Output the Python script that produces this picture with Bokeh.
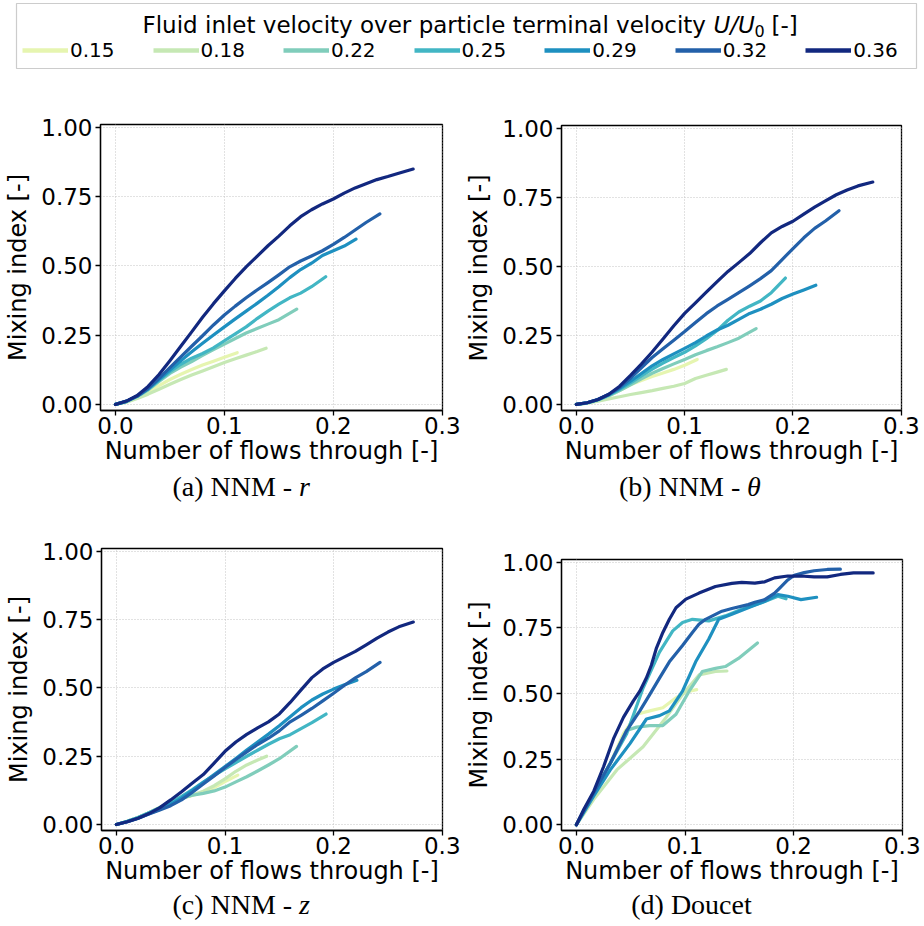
from bokeh.plotting import figure
from bokeh.layouts import column, row
from bokeh.models import (Label, Legend, LegendItem, Range1d, FixedTicker,
                          PrintfTickFormatter)
from bokeh.embed import file_html
from bokeh.resources import INLINE

# ---------------- data ----------------
velocity_labels = ["0.15", "0.18", "0.22", "0.25", "0.29", "0.32", "0.36"]
colors = ["#e6f5b0", "#c6e8b4", "#80cdbb", "#42b6c4", "#1e90c0", "#2360a9", "#12287f"]

x_ticks = [0.0, 0.1, 0.2, 0.3]
y_ticks = [0.0, 0.25, 0.5, 0.75, 1.0]

# (a) NNM - r
nnm_r_x = [
    [0, 0.01, 0.02, 0.03, 0.04, 0.05, 0.06, 0.07, 0.08, 0.09, 0.10, 0.1118],
    [0, 0.01, 0.02, 0.03, 0.04, 0.05, 0.06, 0.07, 0.08, 0.09, 0.10, 0.11, 0.12, 0.13, 0.1383],
    [0, 0.01, 0.02, 0.03, 0.04, 0.05, 0.06, 0.07, 0.08, 0.09, 0.10, 0.11, 0.12, 0.13, 0.14, 0.15, 0.1664],
    [0, 0.01, 0.02, 0.03, 0.04, 0.05, 0.06, 0.07, 0.08, 0.09, 0.10, 0.11, 0.12, 0.13, 0.14, 0.15, 0.16, 0.17, 0.18, 0.193],
    [0, 0.01, 0.02, 0.03, 0.04, 0.05, 0.06, 0.07, 0.08, 0.09, 0.10, 0.11, 0.12, 0.13, 0.14, 0.15, 0.16, 0.17, 0.18, 0.19, 0.20, 0.21, 0.2208],
    [0, 0.01, 0.02, 0.03, 0.04, 0.05, 0.06, 0.07, 0.08, 0.09, 0.10, 0.11, 0.12, 0.13, 0.14, 0.15, 0.16, 0.17, 0.18, 0.19, 0.20, 0.21, 0.22, 0.23, 0.2427],
    [0, 0.01, 0.02, 0.03, 0.04, 0.05, 0.06, 0.07, 0.08, 0.09, 0.10, 0.11, 0.12, 0.13, 0.14, 0.15, 0.16, 0.17, 0.18, 0.19, 0.20, 0.21, 0.22, 0.23, 0.24, 0.25, 0.26, 0.2733],
]
nnm_r_y = [
    [0, 0.009, 0.025, 0.045, 0.068, 0.09, 0.109, 0.126, 0.142, 0.156, 0.17, 0.187],
    [0, 0.008, 0.021, 0.037, 0.055, 0.073, 0.09, 0.106, 0.121, 0.136, 0.151, 0.165, 0.178, 0.191, 0.203],
    [0, 0.01, 0.028, 0.052, 0.083, 0.112, 0.135, 0.155, 0.177, 0.198, 0.218, 0.238, 0.258, 0.274, 0.29, 0.306, 0.344],
    [0, 0.011, 0.03, 0.055, 0.087, 0.118, 0.145, 0.167, 0.184, 0.204, 0.23, 0.255, 0.28, 0.31, 0.337, 0.362, 0.385, 0.402, 0.425, 0.461],
    [0, 0.011, 0.03, 0.056, 0.09, 0.124, 0.158, 0.19, 0.221, 0.251, 0.28, 0.309, 0.337, 0.365, 0.394, 0.425, 0.458, 0.487, 0.51, 0.538, 0.555, 0.572, 0.597],
    [0, 0.011, 0.03, 0.058, 0.094, 0.133, 0.172, 0.21, 0.248, 0.287, 0.323, 0.355, 0.385, 0.413, 0.44, 0.468, 0.497, 0.518, 0.536, 0.555, 0.578, 0.603, 0.63, 0.657, 0.688],
    [0, 0.012, 0.032, 0.065, 0.108, 0.158, 0.21, 0.262, 0.315, 0.364, 0.41, 0.455, 0.497, 0.535, 0.573, 0.608, 0.645, 0.678, 0.703, 0.724, 0.742, 0.763, 0.782, 0.797, 0.812, 0.823, 0.835, 0.850],
]

# (b) NNM - theta
nnm_t_x = [
    [0, 0.01, 0.02, 0.03, 0.04, 0.05, 0.06, 0.07, 0.08, 0.09, 0.10, 0.1116],
    [0, 0.01, 0.02, 0.03, 0.04, 0.05, 0.06, 0.07, 0.08, 0.09, 0.10, 0.11, 0.12, 0.13, 0.1385],
    [0, 0.01, 0.02, 0.03, 0.04, 0.05, 0.06, 0.07, 0.08, 0.09, 0.10, 0.11, 0.12, 0.13, 0.14, 0.15, 0.166],
    [0, 0.01, 0.02, 0.03, 0.04, 0.05, 0.06, 0.07, 0.08, 0.09, 0.10, 0.11, 0.12, 0.13, 0.14, 0.15, 0.16, 0.17, 0.18, 0.193],
    [0, 0.01, 0.02, 0.03, 0.04, 0.05, 0.06, 0.07, 0.08, 0.09, 0.10, 0.11, 0.12, 0.13, 0.14, 0.15, 0.16, 0.17, 0.18, 0.19, 0.20, 0.21, 0.2211],
    [0, 0.01, 0.02, 0.03, 0.04, 0.05, 0.06, 0.07, 0.08, 0.09, 0.10, 0.11, 0.12, 0.13, 0.14, 0.15, 0.16, 0.17, 0.18, 0.19, 0.20, 0.21, 0.22, 0.23, 0.2425],
    [0, 0.01, 0.02, 0.03, 0.04, 0.05, 0.06, 0.07, 0.08, 0.09, 0.10, 0.11, 0.12, 0.13, 0.14, 0.15, 0.16, 0.17, 0.18, 0.19, 0.20, 0.21, 0.22, 0.23, 0.24, 0.25, 0.26, 0.2737],
]
nnm_t_y = [
    [0, 0.005, 0.016, 0.031, 0.05, 0.071, 0.087, 0.101, 0.114, 0.127, 0.142, 0.163],
    [0, 0.005, 0.012, 0.02, 0.028, 0.036, 0.043, 0.05, 0.058, 0.066, 0.076, 0.094, 0.106, 0.117, 0.127],
    [0, 0.005, 0.016, 0.031, 0.05, 0.071, 0.093, 0.113, 0.13, 0.147, 0.163, 0.18, 0.195, 0.209, 0.224, 0.24, 0.275],
    [0, 0.006, 0.017, 0.034, 0.055, 0.078, 0.103, 0.128, 0.15, 0.17, 0.189, 0.212, 0.238, 0.268, 0.305, 0.335, 0.356, 0.375, 0.405, 0.458],
    [0, 0.006, 0.018, 0.036, 0.058, 0.084, 0.112, 0.14, 0.163, 0.183, 0.203, 0.224, 0.248, 0.27, 0.287, 0.308, 0.33, 0.345, 0.363, 0.384, 0.4, 0.415, 0.432],
    [0, 0.006, 0.018, 0.036, 0.062, 0.095, 0.133, 0.17, 0.202, 0.233, 0.264, 0.297, 0.329, 0.357, 0.381, 0.405, 0.43, 0.456, 0.485, 0.525, 0.565, 0.604, 0.638, 0.665, 0.702],
    [0, 0.006, 0.018, 0.037, 0.066, 0.105, 0.146, 0.19, 0.237, 0.285, 0.33, 0.368, 0.407, 0.445, 0.482, 0.514, 0.547, 0.586, 0.622, 0.645, 0.664, 0.69, 0.715, 0.738, 0.76, 0.777, 0.792, 0.806],
]

# (c) NNM - z
nnm_z_x = [
    [0, 0.01, 0.02, 0.03, 0.04, 0.05, 0.06, 0.07, 0.08, 0.09, 0.10, 0.1118],
    [0, 0.01, 0.02, 0.03, 0.04, 0.05, 0.06, 0.07, 0.08, 0.09, 0.10, 0.11, 0.12, 0.13, 0.1383],
    [0, 0.01, 0.02, 0.03, 0.04, 0.05, 0.06, 0.07, 0.08, 0.09, 0.10, 0.11, 0.12, 0.13, 0.14, 0.15, 0.1658],
    [0, 0.01, 0.02, 0.03, 0.04, 0.05, 0.06, 0.07, 0.08, 0.09, 0.10, 0.11, 0.12, 0.13, 0.14, 0.15, 0.16, 0.17, 0.18, 0.193],
    [0, 0.01, 0.02, 0.03, 0.04, 0.05, 0.06, 0.07, 0.08, 0.09, 0.10, 0.11, 0.12, 0.13, 0.14, 0.15, 0.16, 0.17, 0.18, 0.19, 0.20, 0.21, 0.2214],
    [0, 0.01, 0.02, 0.03, 0.04, 0.05, 0.06, 0.07, 0.08, 0.09, 0.10, 0.11, 0.12, 0.13, 0.14, 0.15, 0.16, 0.17, 0.18, 0.19, 0.20, 0.21, 0.22, 0.23, 0.2427],
    [0, 0.01, 0.02, 0.03, 0.04, 0.05, 0.06, 0.07, 0.08, 0.09, 0.10, 0.11, 0.12, 0.13, 0.14, 0.15, 0.16, 0.17, 0.18, 0.19, 0.20, 0.21, 0.22, 0.23, 0.24, 0.25, 0.26, 0.2733],
]
nnm_z_y = [
    [0, 0.012, 0.026, 0.043, 0.062, 0.081, 0.095, 0.106, 0.118, 0.135, 0.157, 0.181],
    [0, 0.012, 0.026, 0.043, 0.062, 0.081, 0.096, 0.108, 0.122, 0.142, 0.167, 0.195, 0.218, 0.236, 0.25],
    [0, 0.012, 0.026, 0.043, 0.062, 0.081, 0.096, 0.107, 0.114, 0.123, 0.137, 0.156, 0.175, 0.196, 0.218, 0.241, 0.286],
    [0, 0.012, 0.026, 0.043, 0.061, 0.08, 0.103, 0.128, 0.155, 0.18, 0.204, 0.227, 0.25, 0.272, 0.294, 0.314, 0.329, 0.351, 0.373, 0.4046],
    [0, 0.01, 0.023, 0.039, 0.056, 0.074, 0.097, 0.125, 0.154, 0.183, 0.212, 0.242, 0.273, 0.302, 0.331, 0.362, 0.395, 0.428, 0.456, 0.478, 0.496, 0.512, 0.528],
    [0, 0.01, 0.023, 0.038, 0.053, 0.069, 0.09, 0.118, 0.148, 0.178, 0.209, 0.238, 0.266, 0.293, 0.316, 0.343, 0.376, 0.4, 0.425, 0.453, 0.481, 0.51, 0.537, 0.56, 0.594],
    [0, 0.01, 0.023, 0.04, 0.062, 0.09, 0.12, 0.152, 0.183, 0.225, 0.268, 0.302, 0.33, 0.354, 0.376, 0.405, 0.447, 0.493, 0.538, 0.57, 0.594, 0.614, 0.634, 0.658, 0.683, 0.705, 0.724, 0.7415],
]

# (d) Doucet
doucet_x = [
    [0, 0.016, 0.0312, 0.0433, 0.0554, 0.0675, 0.0796, 0.0917, 0.1007, 0.1107],
    [0, 0.016, 0.0372, 0.0614, 0.0826, 0.0977, 0.1129, 0.128, 0.1386],
    [0, 0.016, 0.0312, 0.0463, 0.0554, 0.0675, 0.0796, 0.0917, 0.1038, 0.1159, 0.128, 0.1371, 0.1492, 0.1667],
    [0, 0.016, 0.0312, 0.0463, 0.0614, 0.0765, 0.0887, 0.0977, 0.1068, 0.1219, 0.1371, 0.1522, 0.1704, 0.1855, 0.193],
    [0, 0.016, 0.0312, 0.0493, 0.0645, 0.0765, 0.0856, 0.0977, 0.1098, 0.1219, 0.131, 0.1431, 0.1582, 0.1734, 0.1855, 0.1946, 0.2067, 0.2211],
    [0, 0.016, 0.0312, 0.0463, 0.0584, 0.0675, 0.0765, 0.0856, 0.0977, 0.1068, 0.1128, 0.1189, 0.128, 0.134, 0.1431, 0.1582, 0.1643, 0.1734, 0.1825, 0.1885, 0.1946, 0.2006, 0.2097, 0.2188, 0.2309, 0.2430],
    [0, 0.007, 0.016, 0.0251, 0.0342, 0.0433, 0.0523, 0.0584, 0.0644, 0.069, 0.0735, 0.0796, 0.0856, 0.0917, 0.1008, 0.1129, 0.128, 0.1431, 0.1522, 0.1643, 0.1734, 0.1824, 0.1946, 0.2067, 0.2188, 0.2309, 0.243, 0.2551, 0.2732],
]
doucet_y = [
    [0, 0.122, 0.234, 0.347, 0.421, 0.434, 0.446, 0.484, 0.506, 0.515],
    [0, 0.097, 0.209, 0.297, 0.409, 0.496, 0.571, 0.584, 0.586],
    [0, 0.122, 0.234, 0.359, 0.372, 0.378, 0.378, 0.421, 0.509, 0.584, 0.596, 0.603, 0.634, 0.693],
    [0, 0.122, 0.234, 0.347, 0.521, 0.658, 0.739, 0.771, 0.783, 0.777, 0.796, 0.821, 0.846, 0.871, 0.861],
    [0, 0.11, 0.209, 0.309, 0.403, 0.416, 0.434, 0.509, 0.621, 0.708, 0.783, 0.802, 0.827, 0.852, 0.877, 0.871, 0.858, 0.867],
    [0, 0.122, 0.234, 0.359, 0.434, 0.496, 0.559, 0.621, 0.683, 0.733, 0.764, 0.783, 0.802, 0.814, 0.824, 0.839, 0.848, 0.858, 0.883, 0.908, 0.933, 0.951, 0.961, 0.968, 0.973, 0.974],
    [0, 0.060, 0.128, 0.222, 0.328, 0.409, 0.471, 0.509, 0.559, 0.608, 0.671, 0.733, 0.783, 0.827, 0.860, 0.883, 0.908, 0.920, 0.924, 0.921, 0.926, 0.941, 0.948, 0.948, 0.945, 0.945, 0.954, 0.960, 0.960],
]

# ---------------- styling helpers ----------------
SANS = "DejaVu Sans"
SERIF = "Liberation Serif"


def make_panel(xs, ys, width, height, mb_l, mb_r, mb_t, mb_b):
    p = figure(width=width, height=height,
               min_border_left=mb_l, min_border_right=mb_r,
               min_border_top=mb_t, min_border_bottom=mb_b,
               x_range=Range1d(-0.0137, 0.3002), y_range=Range1d(-0.022, 1.011),
               output_backend="svg", toolbar_location=None, title=None)
    for i in range(len(xs)):
        p.line(xs[i], ys[i], line_color=colors[i], line_width=3.2,
               line_join="round", line_cap="round")

    p.xaxis.ticker = FixedTicker(ticks=x_ticks)
    p.yaxis.ticker = FixedTicker(ticks=y_ticks)
    p.xaxis.formatter = PrintfTickFormatter(format="%.1f")
    p.yaxis.formatter = PrintfTickFormatter(format="%.2f")
    p.xaxis.axis_label = "Number of flows through [-]"
    p.yaxis.axis_label = "Mixing index [-]"
    for ax in (p.xaxis, p.yaxis):
        ax.axis_label_text_font = SANS
        ax.axis_label_text_font_size = "24px"
        ax.axis_label_text_font_style = "normal"
        ax.axis_label_text_color = "black"
        ax.major_label_text_font = SANS
        ax.major_label_text_font_size = "23px"
        ax.major_label_text_color = "black"
        ax.axis_line_color = "black"
        ax.axis_line_width = 1.3
        ax.major_tick_line_color = "black"
        ax.major_tick_line_width = 1.3
        ax.major_tick_out = 5
        ax.major_tick_in = 0
        ax.minor_tick_line_color = None
    p.xaxis.major_label_standoff = 1
    p.yaxis.major_label_standoff = 3
    p.xaxis.axis_label_standoff = 0
    p.yaxis.axis_label_standoff = 6

    p.grid.grid_line_color = "#c4c4c4"
    p.grid.grid_line_dash = "1 2"
    p.grid.grid_line_width = 1
    p.outline_line_color = "black"
    p.outline_line_width = 1.3
    p.background_fill_color = "white"
    p.border_fill_color = "white"
    return p


def make_caption_strip(height, y, parts):
    s = figure(width=924, height=height, min_border=0,
               x_range=Range1d(0, 924), y_range=Range1d(0, height),
               x_axis_type=None, y_axis_type=None,
               output_backend="svg", toolbar_location=None, title=None)
    s.grid.visible = False
    s.outline_line_color = None
    s.border_fill_color = "white"
    for (xpos, txt, align, style) in parts:
        s.add_layout(Label(x=xpos, y=y, text=txt, text_font=SERIF,
                           text_font_size="28px", text_font_style=style,
                           text_baseline="middle", text_align=align,
                           text_color="black"))
    return s


# layout: legend 0-75 | row 1 75-468 | captions 468-505 | row 2 505-887 | captions 887-926
pa = make_panel(nnm_r_x, nnm_r_y, 462, 393, 100, 20, 49, 58)
pb = make_panel(nnm_t_x, nnm_t_y, 462, 393, 96, 23, 50, 58)
pc = make_panel(nnm_z_x, nnm_z_y, 462, 382, 101, 20, 43, 54)
pd = make_panel(doucet_x, doucet_y, 462, 382, 94, 22, 54, 53)

cap1 = make_caption_strip(37, 19, [
    (283, "(a) NNM -", "right", "normal"),
    (290, "r", "left", "italic"),
    (743, "(b) NNM -", "right", "normal"),
    (750, "\u03b8", "left", "italic"),
])
cap2 = make_caption_strip(39, 22.5, [
    (283, "(c) NNM -", "right", "normal"),
    (290, "z", "left", "italic"),
    (693, "(d) Doucet", "center", "normal"),
])

# ---------------- legend strip ----------------
lg = figure(width=924, height=75, min_border_left=16, min_border_right=8,
            min_border_top=3, min_border_bottom=7,
            x_range=Range1d(0, 1), y_range=Range1d(0, 1),
            x_axis_type=None, y_axis_type=None,
            output_backend="svg", toolbar_location=None, title=None)
lg.grid.visible = False
lg.outline_line_color = "#cccccc"
lg.outline_line_width = 1.2
lg.border_fill_color = "white"

items = []
for i, lab in enumerate(velocity_labels):
    # legend-only renderer: its single segment lies outside the visible range
    r = lg.line(x=[5, 6], y=[5, 6], line_color=colors[i], line_width=4.5)
    items.append(LegendItem(label=lab, renderers=[r]))
legend = Legend(items=items, orientation="horizontal", location=(6, 6),
                glyph_width=46, glyph_height=20, label_standoff=2, spacing=38,
                padding=0, margin=0, border_line_alpha=0, background_fill_alpha=0,
                label_text_font=SANS, label_text_font_size="20px",
                label_text_color="black", label_height=20)
lg.add_layout(legend, "center")

title_y = 44
lg.add_layout(Label(x=126, y=title_y, x_units="screen", y_units="screen",
                    text="Fluid inlet velocity over particle terminal velocity",
                    text_font=SANS, text_font_size="23px", text_baseline="middle",
                    text_align="left", text_color="black"))
lg.add_layout(Label(x=697, y=title_y, x_units="screen", y_units="screen",
                    text="U/U", text_font=SANS, text_font_size="23px",
                    text_font_style="italic", text_baseline="middle",
                    text_align="left", text_color="black"))
lg.add_layout(Label(x=738, y=title_y - 6, x_units="screen", y_units="screen",
                    text="0", text_font=SANS, text_font_size="16px",
                    text_baseline="middle", text_align="left", text_color="black"))
lg.add_layout(Label(x=755, y=title_y, x_units="screen", y_units="screen",
                    text="[-]", text_font=SANS, text_font_size="23px",
                    text_baseline="middle", text_align="left", text_color="black"))

layout = column(lg, row(column(pa), column(pb)), cap1,
                row(column(pc), column(pd)), cap2)
open("out.html", "w").write(file_html(layout, INLINE))
